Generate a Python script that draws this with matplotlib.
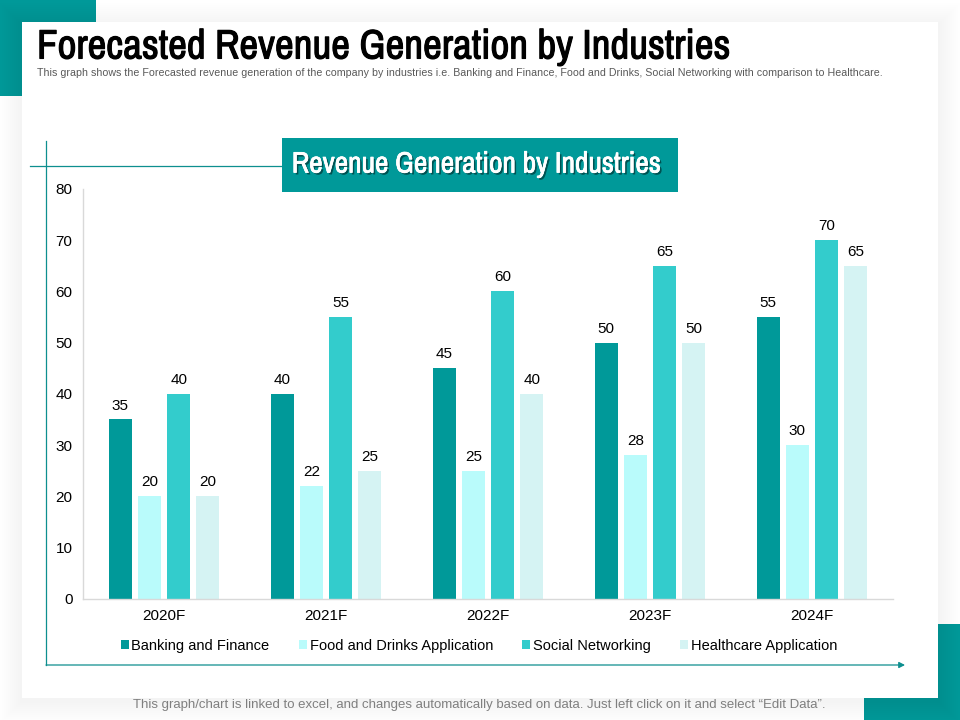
"""Forecasted revenue by industry, grouped bars on a slide-style card."""

import matplotlib

matplotlib.use("Agg")
import matplotlib.patheffects as pe
import matplotlib.pyplot as plt
import numpy as np
from matplotlib.patches import Rectangle

years = ["2020F", "2021F", "2022F", "2023F", "2024F"]
banking = [35, 40, 45, 50, 55]
food = [20, 22, 25, 28, 30]
social = [40, 55, 60, 65, 70]
healthcare = [20, 25, 40, 50, 65]

series_names = [
    "Banking and Finance",
    "Food and Drinks Application",
    "Social Networking",
    "Healthcare Application",
]
series_values = [banking, food, social, healthcare]
series_colors = ["#009999", "#B9FBFB", "#33CCCC", "#D5F3F3"]

TEAL = "#009999"
LINE = "#0E8F8F"
W, H = 960, 720

plt.rcParams["font.family"] = ["Liberation Sans", "DejaVu Sans"]
NARROW = ["Archivo Narrow", "Roboto Condensed", "Liberation Sans"]

fig = plt.figure(figsize=(W / 100, H / 100), dpi=100, facecolor="white")

# page decoration, in pixel coordinates with y going down
bg = fig.add_axes([0, 0, 1, 1])
bg.set_xlim(0, W)
bg.set_ylim(H, 0)
bg.axis("off")

bg.add_patch(Rectangle((0, 0), 96, 96, color=TEAL, lw=0, zorder=1))
bg.add_patch(Rectangle((864, 624), 96, 96, color=TEAL, lw=0, zorder=1))

# soft card shadow
for grow in range(22, 0, -2):
    bg.add_patch(Rectangle((22 - grow, 22 - grow + 3), 916 + 2 * grow, 676 + 2 * grow,
                           color="black", alpha=0.004, lw=0, zorder=2))
bg.add_patch(Rectangle((22, 22), 916, 676, color="white", lw=0, zorder=3))

# the narrow font has no bold cut here, a thin stroke thickens it
bg.text(37, 47, "Forecasted Revenue Generation by Industries", family=NARROW,
        fontsize=29.6, color="black", va="center", zorder=4,
        path_effects=[pe.withStroke(linewidth=0.8, foreground="black")])
bg.text(37, 73, "This graph shows the Forecasted revenue generation of the company by "
        "industries i.e. Banking and Finance, Food and Drinks, Social Networking "
        "with comparison to Healthcare.",
        fontsize=7.66, color="#595959", va="center", zorder=4)
bg.text(479, 705, "This graph/chart is linked to excel, and changes automatically based "
        "on data. Just left click on it and select \u201cEdit Data\u201d.",
        fontsize=9.5, color="#7F7F7F", ha="center", va="center", zorder=4)

bg.plot([30, 282], [166, 166], color=LINE, lw=0.9, zorder=4)
bg.plot([46, 46], [141, 665], color=LINE, lw=0.9, zorder=4)
bg.annotate("", xy=(905, 665), xytext=(46, 665), zorder=4,
            arrowprops=dict(arrowstyle="-|>,head_length=0.35,head_width=0.18",
                            color=LINE, lw=0.9, shrinkA=0, shrinkB=0))

bg.add_patch(Rectangle((282, 138), 396, 54, color=TEAL, lw=0, zorder=4))
bg.text(476, 164, "Revenue Generation by Industries", family=NARROW, fontsize=21.2,
        color="white", ha="center", va="center", zorder=5,
        path_effects=[pe.withSimplePatchShadow(offset=(1.4, -1.4), shadow_rgbFace="#004040",
                                               alpha=0.8),
                      pe.withStroke(linewidth=0.5, foreground="white")])

# the chart
ax = fig.add_axes([83 / W, 1 - 598.7 / H, 810 / W, 409.7 / H])
ax.patch.set_alpha(0)
x = np.arange(len(years))
bar_width = 0.142
step = 0.181

handles = []
for i, (name, vals, color) in enumerate(zip(series_names, series_values, series_colors)):
    bars = ax.bar(x + (i - 1.5) * step, vals, bar_width, color=color, label=name)
    ax.bar_label(bars, padding=5, fontsize=11, color="black")
    handles.append(bars)

ax.set_xlim(-0.5, 4.5)
ax.set_ylim(0, 80)
ax.set_yticks(range(0, 81, 10))
ax.set_xticks(x)
ax.set_xticklabels(years)
ax.tick_params(axis="both", length=0, labelsize=11, colors="black")
ax.tick_params(axis="x", pad=7.5)
ax.tick_params(axis="y", pad=7.5)
for side in ["top", "right"]:
    ax.spines[side].set_visible(False)
for side in ["left", "bottom"]:
    ax.spines[side].set_color("#D9D9D9")
    ax.spines[side].set_linewidth(1)

fig.legend(handles=handles, loc="center", bbox_to_anchor=(479 / W, 1 - 646 / H),
           ncol=4, frameon=False, fontsize=10.5, handlelength=0.55, handleheight=0.55,
           handletextpad=0.2, columnspacing=2.0, borderpad=0, borderaxespad=0)

fig.savefig("out.png", dpi=100)
